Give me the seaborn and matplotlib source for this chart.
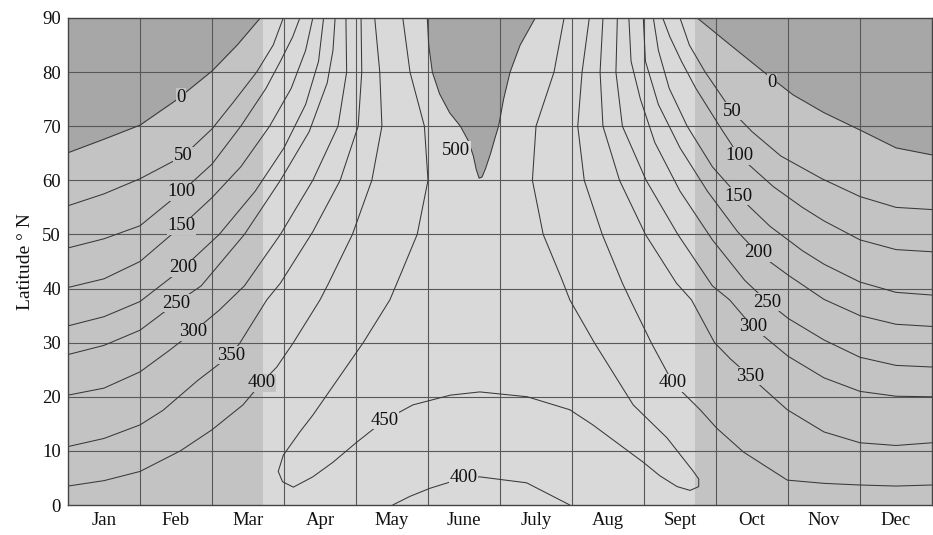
import numpy as np
import matplotlib
matplotlib.use("Agg")
import matplotlib.pyplot as plt
import seaborn as sns

# ---------------- data ----------------
# x in months since 1 Jan (0 = 1 Jan, 12 = 31 Dec), y = latitude (deg N)
month_labels = ["Jan", "Feb", "Mar", "Apr", "May", "June", "July", "Aug", "Sept", "Oct", "Nov", "Dec"]
lat_ticks = [0, 10, 20, 30, 40, 50, 60, 70, 80, 90]
equinox_band = [2.71, 8.71]          # light band between the equinoxes

# left family (winter/spring), from 1 Jan up to the pole
c0L_t = [0, 0.5, 1.0, 1.5, 2.0, 2.35, 2.67]
c0L_y = [65.1, 67.6, 70.2, 74.8, 80.2, 85.0, 90]
c50L_t = [0, 0.5, 1.0, 1.6, 2.0, 2.3, 2.62, 2.85, 2.99]
c50L_y = [55.3, 57.5, 60.3, 64.5, 69.5, 74.5, 80, 85, 90]
c100L_t = [0, 0.5, 1.0, 1.58, 2.0, 2.4, 2.75, 2.95, 3.12, 3.22]
c100L_y = [47.5, 49.2, 51.6, 57.9, 63, 70, 77, 82, 86.5, 90]
c150L_t = [0, 0.5, 1.0, 1.58, 2.0, 2.4, 2.8, 3.1, 3.3, 3.4]
c150L_y = [40.2, 41.8, 45.0, 51.6, 56.8, 62.5, 70, 77, 84, 90]
c200L_t = [0, 0.5, 1.0, 1.6, 2.1, 2.6, 3.0, 3.3, 3.48, 3.55]
c200L_y = [33.1, 34.8, 37.6, 43.8, 50, 58, 66, 74, 82, 90]
c250L_t = [0, 0.5, 1.0, 1.5, 1.85, 2.45, 2.95, 3.35, 3.6, 3.68, 3.71]
c250L_y = [27.8, 29.5, 32.3, 37.3, 40.5, 50, 60, 69, 78, 84, 90]
c300L_t = [0, 0.5, 1.0, 1.4, 1.74, 2.1, 2.45, 2.95, 3.4, 3.75, 3.87, 3.86]
c300L_y = [20.3, 21.6, 24.6, 28.5, 32, 36, 40.5, 50, 60, 70, 80, 90]
c350L_t = [0, 0.5, 1.0, 1.32, 1.8, 2.26, 2.39, 2.76, 2.95, 3.4, 3.78, 4.03, 4.08, 4.07]
c350L_y = [10.8, 12.3, 14.8, 17.5, 23, 27.7, 30, 37.9, 41, 50.5, 60, 70, 80, 90]
c400L_t = [0, 0.5, 1.0, 1.56, 2.0, 2.43, 2.69, 2.9, 3.13, 3.5, 3.62, 3.95, 4.22, 4.36, 4.33, 4.26]
c400L_y = [3.5, 4.5, 6.2, 10, 13.9, 18.5, 22.6, 25.5, 30, 37.9, 41, 50, 60, 70, 80, 90]

# 450 contour: from the pole in spring, round the equatorial loop, back to the pole in summer
c450_t = [4.65, 4.75, 4.95, 5.0, 4.85, 4.6, 4.47, 4.10, 3.40, 3.22, 2.99, 2.92, 2.98, 3.13, 3.40,
          3.68, 4.01, 4.40, 4.79, 5.31, 5.72, 6.38, 6.97, 7.29, 7.99, 8.22, 8.46, 8.64, 8.76,
          8.76, 8.68, 8.32, 7.85, 7.31, 6.97, 6.85, 6.6, 6.45, 6.5, 6.75, 6.89]
c450_y = [90, 80, 70, 60, 50, 42, 37.9, 30, 16.6, 13.5, 9.2, 6.2, 4.3, 3.3, 5.2,
          7.9, 11.6, 15.7, 18.5, 20.3, 20.9, 20.0, 17.6, 14.8, 7.9, 5.4, 3.4, 2.7, 3.4,
          4.8, 6.3, 12.4, 18.5, 30, 37.9, 42, 50, 60, 70, 80, 90]
# 500 contour: closed tongue around the pole at the June solstice
c500_t = [4.99, 5.01, 5.06, 5.16, 5.3, 5.45, 5.56, 5.63, 5.67, 5.71, 5.75, 5.8, 5.87, 5.93,
          5.98, 6.05, 6.14, 6.28, 6.49]
c500_y = [90, 85, 80, 76, 72.5, 70, 67.3, 64.5, 62, 60.4, 60.6, 62.2, 65, 67.8,
          70, 75, 80, 85, 90]
# 400 arch at the equator, May-August
c400E_t = [4.51, 4.75, 5.03, 5.49, 5.72, 6.37, 6.97]
c400E_y = [0, 1.6, 3.1, 5.0, 5.2, 4.1, 0]

# right family (summer/autumn), from the pole down to 31 Dec
c0R_t = [8.74, 9.2, 9.75, 10.07, 10.5, 11.0, 11.5, 12]
c0R_y = [90, 85, 79.1, 75.8, 72.5, 69.3, 66.0, 64.7]
c50R_t = [8.50, 8.63, 8.85, 9.22, 9.5, 9.9, 10.47, 11.0, 11.5, 12]
c50R_y = [90, 85, 80, 72.8, 69, 64.5, 60.3, 57, 55, 54.6]
c100R_t = [8.26, 8.36, 8.52, 8.72, 9.05, 9.32, 9.8, 10.2, 10.5, 11.0, 11.5, 12]
c100R_y = [90, 86.5, 82, 77, 70, 64.5, 58.8, 55, 52.5, 49, 47.2, 46.8]
c150R_t = [8.13, 8.2, 8.35, 8.6, 8.95, 9.31, 9.75, 10.2, 10.5, 11.0, 11.5, 12]
c150R_y = [90, 84, 77, 70, 62.5, 57.1, 51.5, 47, 44.5, 41.2, 39.3, 38.8]
c200R_t = [7.99, 8.02, 8.2, 8.5, 8.88, 9.3, 9.58, 10.0, 10.5, 11.0, 11.5, 12]
c200R_y = [90, 82, 74, 66, 58, 50.5, 46.6, 42.5, 38, 35, 33.4, 33.0]
c250R_t = [7.79, 7.82, 7.95, 8.15, 8.5, 8.95, 9.4, 9.72, 10.0, 10.5, 11.0, 11.5, 12]
c250R_y = [90, 82, 75, 67, 58, 49, 41.5, 37.5, 34.5, 30.5, 27.3, 25.8, 25.5]
c300R_t = [7.63, 7.61, 7.7, 8.03, 8.47, 8.95, 9.19, 9.51, 10.0, 10.5, 11.0, 11.5, 12]
c300R_y = [90, 80, 70, 60, 50, 40.5, 37.9, 32.9, 27.5, 23.5, 21, 20.1, 20.0]
c350R_t = [7.43, 7.39, 7.43, 7.66, 8.02, 8.45, 8.66, 8.98, 9.2, 9.47, 9.99, 10.5, 11.0, 11.5, 12]
c350R_y = [90, 80, 70, 60, 50, 41, 37.9, 30, 27, 23.8, 17.6, 13.5, 11.5, 11.0, 11.5]
c400R_t = [7.24, 7.14, 7.08, 7.17, 7.42, 7.7, 7.81, 8.1, 8.40, 8.78, 9.01, 9.38, 9.99, 10.5, 10.99, 11.5, 12]
c400R_y = [90, 80, 70, 60, 50, 41, 37.9, 30, 22.6, 17.6, 14.2, 9.8, 4.6, 4.0, 3.7, 3.5, 3.7]

# contour labels: (value, month position, latitude)
label_vals = ["0", "50", "100", "150", "200", "250", "300", "350", "400", "500", "450", "400",
              "400", "0", "50", "100", "150", "200", "250", "300", "350"]
label_t = [1.57, 1.60, 1.58, 1.58, 1.60, 1.50, 1.74, 2.26, 2.69, 5.39, 4.40, 5.49,
           8.40, 9.78, 9.22, 9.32, 9.31, 9.58, 9.71, 9.51, 9.47]
label_y = [75.4, 64.5, 57.9, 51.6, 43.8, 37.3, 32.0, 27.7, 22.6, 65.6, 15.7, 5.0,
           22.6, 78.0, 72.8, 64.5, 57.1, 46.6, 37.5, 32.9, 23.8]

# ---------------- styling ----------------
sns.set_theme(style="white")
plt.rcParams["font.family"] = ["Liberation Serif", "DejaVu Serif"]

DARK = "#a7a7a7"
MED = "#c3c3c3"
LIGHT = "#d9d9d9"
LINE = "#383838"
GRID = "#585858"

fig = plt.figure(figsize=(9.33, 5.35), dpi=100)
ax = fig.add_axes([68 / 933, 30 / 535, 864 / 933, 487 / 535])
ax.set_xlim(0, 12)
ax.set_ylim(0, 90)
ax.set_facecolor(MED)

ax.axvspan(equinox_band[0], equinox_band[1], color=LIGHT, lw=0, zorder=0)
ax.fill_between(c0L_t, c0L_y, 90, color=DARK, lw=0, zorder=0.5)
ax.fill_between(c0R_t, c0R_y, 90, color=DARK, lw=0, zorder=0.5)
ax.fill(c500_t, c500_y, color=DARK, lw=0, zorder=0.5)

for xv in range(1, 12):
    ax.axvline(xv, color=GRID, lw=0.8, zorder=1)
for yv in lat_ticks[1:-1]:
    ax.axhline(yv, color=GRID, lw=0.8, zorder=1)

curves = [(c0L_t, c0L_y), (c50L_t, c50L_y), (c100L_t, c100L_y), (c150L_t, c150L_y),
          (c200L_t, c200L_y), (c250L_t, c250L_y), (c300L_t, c300L_y), (c350L_t, c350L_y),
          (c400L_t, c400L_y), (c450_t, c450_y), (c500_t, c500_y), (c400E_t, c400E_y),
          (c0R_t, c0R_y), (c50R_t, c50R_y), (c100R_t, c100R_y), (c150R_t, c150R_y),
          (c200R_t, c200R_y), (c250R_t, c250R_y), (c300R_t, c300R_y), (c350R_t, c350R_y),
          (c400R_t, c400R_y)]
for tt, yy in curves:
    sns.lineplot(x=tt, y=yy, sort=False, estimator=None, color=LINE, lw=0.75, ax=ax, zorder=2)

def bg_at(t, y):
    if t < equinox_band[0] or t > equinox_band[1]:
        return MED
    return LIGHT

for s, t, y in zip(label_vals, label_t, label_y):
    ax.text(t, y, s, ha="center", va="center", fontsize=13.5, color="#111111", zorder=3,
            bbox=dict(boxstyle="square,pad=0.03", fc=bg_at(t, y), ec="none"))

ax.set_xticks([i + 0.5 for i in range(12)])
ax.set_xticklabels(month_labels)
ax.set_yticks(lat_ticks)
ax.tick_params(axis="both", length=0, labelsize=13.5, colors="#111111", pad=5)
ax.set_ylabel("Latitude ° N", fontsize=14, color="#111111", labelpad=6)
ax.set_xlabel("")
for sp in ax.spines.values():
    sp.set_color("#444444")
    sp.set_linewidth(1.0)

fig.savefig("out.png", dpi=100)
